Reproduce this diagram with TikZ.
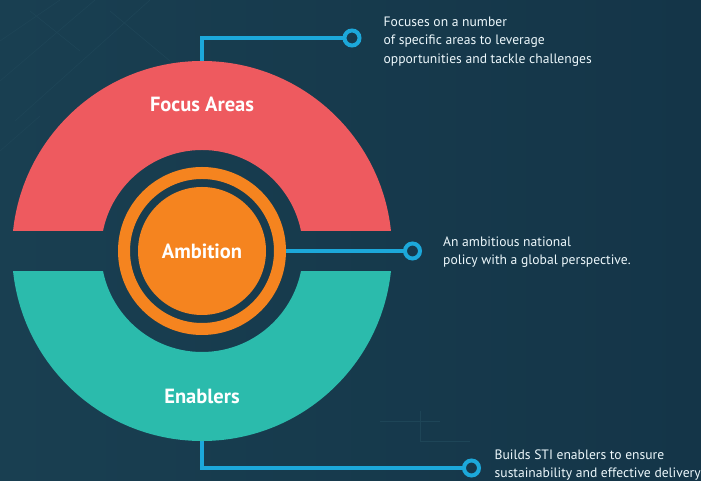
\documentclass[tikz,border=0pt]{standalone}
\usepackage{fontspec}
\setmainfont{PT Sans}
\begin{document}
\definecolor{bgleft}{HTML}{193F51}
\definecolor{bgright}{HTML}{143548}
\definecolor{focusred}{HTML}{EE5A5F}
\definecolor{enablegreen}{HTML}{2BBBAC}
\definecolor{ambitionorange}{HTML}{F5841F}
\definecolor{linkcyan}{HTML}{1CA8DA}
\definecolor{texture}{HTML}{1E4557}
\begin{tikzpicture}[x=1pt,y=1pt,
  label/.style={font=\bfseries\fontsize{20.5}{22}\selectfont, text=white},
  note/.style={font=\fontsize{13.6}{18.3}\selectfont, text=white!92!linkcyan, align=left, inner sep=0pt, anchor=base west},
  link/.style={draw=linkcyan, line width=4pt},
  marker/.style={circle, draw=linkcyan, line width=4pt, inner sep=0pt, minimum size=15pt, outer sep=0pt},
]
% background
\shade[left color=bgleft, right color=bgright] (0,0) rectangle (701,481);
\useasboundingbox (0,0) rectangle (701,481);
% faint background texture
\begin{scope}[draw=texture, line width=0.6pt]
  \draw (0,400) -- (95,481);
  \draw (15,360) -- (150,481);
  \draw (30,470) -- (80,430);
  \draw (60,481) -- (0,440);
  \draw (110,470) -- (170,420);
  \draw (0,330) -- (40,365);
  \draw (420,70) -- (420,40) -- (470,40);
  \draw (380,60) -- (440,60);
\end{scope}
% hub position and outer ring
\coordinate (hub) at (202,230);
\node[circle, minimum size=380pt, inner sep=0pt, outer sep=0pt] (ring) at (hub) {};
% upper band: focus areas
\begin{scope}
  \clip (0,250.5) rectangle (701,481);
  \fill[focusred, even odd rule] (hub) circle[radius=190] (hub) circle[radius=101];
\end{scope}
% lower band: enablers
\begin{scope}
  \clip (0,0) rectangle (701,209.5);
  \fill[enablegreen, even odd rule] (hub) circle[radius=190] (hub) circle[radius=101];
\end{scope}
% ambition core
\fill[ambitionorange, even odd rule] (hub) circle[radius=84] (hub) circle[radius=72];
\fill[ambitionorange] (hub) circle[radius=64];
\node[circle, minimum size=168pt, inner sep=0pt, outer sep=0pt, label] (ambition) at (hub) {Ambition};
% band labels
\node[label] (focus) at (202,377) {Focus Areas};
\node[label] (enablers) at (202,85) {Enablers};
% end markers
\node[marker] (m1) at (352,443) {};
\node[marker] (m2) at (412.5,230) {};
\node[marker] (m3) at (471.5,13) {};
% connectors
\draw[link] (ring.north) |- (m1.west);
\draw[link] (ambition.east) -- (m2.west);
\draw[link] (ring.south) |- (m3.west);
% descriptions (anchored at the baseline of the last line)
\node[note] (t1) at (383.5,417.7) {Focuses on a number\\of specific areas to leverage\\opportunities and tackle challenges};
\node[note] (t2) at (443,216) {An ambitious national\\policy with a global perspective.};
\node[note] (t3) at (494.5,3.5) {Builds STI enablers to ensure\\sustainability and effective delivery};
\end{tikzpicture}
\end{document}
